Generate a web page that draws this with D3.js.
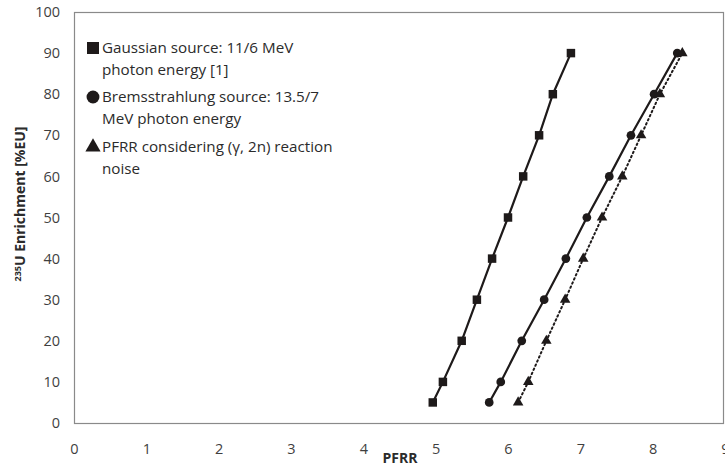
<!DOCTYPE html>
<html>
<head>
<meta charset="utf-8">
<script src="https://cdn.jsdelivr.net/npm/d3@7"></script>
<style>
  body { margin: 0; background: #fff; }
  svg { display: block; font-family: "Open Sans", sans-serif; }
</style>
</head>
<body>
<svg id="chart" width="725" height="469"></svg>
<script>
// enrichment levels (%EU), shared by every series
var enrichment = [5, 10, 20, 30, 40, 50, 60, 70, 80, 90];
// PFRR
var gaussianPFRR = [4.96, 5.10, 5.36, 5.57, 5.78, 6.00, 6.21, 6.43, 6.62, 6.87];
var bremsPFRR = [5.74, 5.90, 6.19, 6.50, 6.80, 7.09, 7.40, 7.70, 8.02, 8.34];
var noisePFRR = [6.14, 6.28, 6.53, 6.79, 7.04, 7.30, 7.58, 7.84, 8.10, 8.41];

var xTicks = [0, 1, 2, 3, 4, 5, 6, 7, 8, 9];
var yTicks = [0, 10, 20, 30, 40, 50, 60, 70, 80, 90, 100];

var legendLines = [
  ["Gaussian source: 11/6 MeV", "photon energy [1]"],
  ["Bremsstrahlung source: 13.5/7", "MeV photon energy"],
  ["PFRR considering (\u03b3, 2n) reaction", "noise"]
];

var ink = "#1e1a1a";

var svg = d3.select("#chart"),
  margin = { top: 12, right: 1, bottom: 46, left: 74 },
  width = +svg.attr("width") - margin.left - margin.right,
  height = +svg.attr("height") - margin.top - margin.bottom,
  g = svg.append("g").attr("transform", "translate(" + margin.left + "," + margin.top + ")");

var x = d3.scaleLinear().domain([0, 9]).range([0, 651]);
var y = d3.scaleLinear().domain([0, 100]).range([height, 0]);

// plot frame
g.append("rect")
  .attr("x", 0.5)
  .attr("y", 0.5)
  .attr("width", 649)
  .attr("height", height)
  .attr("fill", "none")
  .attr("stroke", "#8a8a8a")
  .attr("stroke-width", 1.2);

var xAxis = g.append("g")
  .attr("transform", "translate(0," + height + ")")
  .call(d3.axisBottom(x).tickValues(xTicks).tickSize(0).tickPadding(21).tickFormat(d3.format("d")));
var yAxis = g.append("g")
  .call(d3.axisLeft(y).tickValues(yTicks).tickSize(0).tickPadding(14).tickFormat(d3.format("d")));

[xAxis, yAxis].forEach(function(a) {
  a.select(".domain").remove();
  a.selectAll("text")
    .attr("font-family", "Open Sans, sans-serif")
    .attr("font-size", 14.5)
    .attr("fill", "#3f3f3f");
});

// axis titles
svg.append("text")
  .attr("x", 400)
  .attr("y", 463)
  .attr("text-anchor", "middle")
  .attr("font-size", 14)
  .attr("font-weight", "bold")
  .attr("fill", "#2b2b2b")
  .text("PFRR");

var yTitle = svg.append("text")
  .attr("transform", "translate(25,204) rotate(-90)")
  .attr("text-anchor", "middle")
  .attr("font-size", 14)
  .attr("font-weight", "bold")
  .attr("fill", "#2b2b2b");
yTitle.append("tspan").attr("font-size", 9).attr("dy", "-4").text("235");
yTitle.append("tspan").attr("dy", "4").text("U Enrichment [%EU]");

var series = [
  { pfrr: gaussianPFRR, symbol: d3.symbolSquare, size: 72, dash: null },
  { pfrr: bremsPFRR, symbol: d3.symbolCircle, size: 60, dash: null },
  { pfrr: noisePFRR, symbol: d3.symbolTriangle, size: 48, dash: "1.5,3" }
];

var line = d3.line()
  .x(function(d) { return x(d[0]); })
  .y(function(d) { return y(d[1]); });

series.forEach(function(s) {
  var pts = s.pfrr.map(function(v, i) { return [v, enrichment[i]]; });
  g.append("path")
    .datum(pts)
    .attr("fill", "none")
    .attr("stroke", ink)
    .attr("stroke-width", s.dash ? 2 : 2.2)
    .attr("stroke-linecap", "round")
    .attr("stroke-dasharray", s.dash)
    .attr("d", line);

  g.selectAll(null)
    .data(pts)
    .enter()
    .append("path")
    .attr("transform", function(d) { return "translate(" + x(d[0]) + "," + y(d[1]) + ")"; })
    .attr("d", d3.symbol().type(s.symbol).size(s.size))
    .attr("fill", ink);
});

// legend
var legendY = [48, 97, 147];
var legendSize = [144, 130, 100];
legendLines.forEach(function(lines, i) {
  svg.append("path")
    .attr("transform", "translate(93," + legendY[i] + ")")
    .attr("d", d3.symbol().type(series[i].symbol).size(legendSize[i]))
    .attr("fill", ink);
  lines.forEach(function(t, j) {
    svg.append("text")
      .attr("x", 102)
      .attr("y", legendY[i] + j * 21.5)
      .attr("dy", "0.35em")
      .attr("font-size", 15.2)
      .attr("fill", "#2b2b2b")
      .text(t);
  });
});
</script>
</body>
</html>
